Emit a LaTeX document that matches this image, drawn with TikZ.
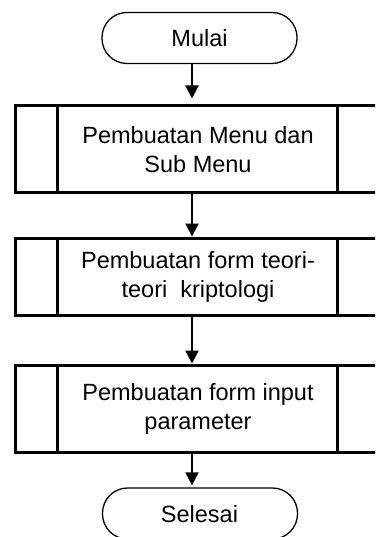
\documentclass[tikz,border=0pt]{standalone}
\usepackage{fontspec}
\setmainfont{Liberation Sans}
\usetikzlibrary{arrows.meta}
\tikzset{
  term/.style={draw, line width=1.3pt, rounded corners=25pt, minimum width=195pt, minimum height=51pt, inner sep=0pt},
  procbox/.style={draw, line width=3pt, minimum width=375pt, inner sep=0pt},
  txt/.style={align=center, inner sep=0pt, font=\fontsize{23.5}{29}\selectfont},
  inner/.style={line width=3pt},
  arr/.style={line width=2pt, -{Triangle[width=13pt,length=13pt]}}
}
\begin{document}
\begin{tikzpicture}[x=1pt,y=-1pt]
\useasboundingbox (0,0) rectangle (375,537);
\clip (0,0) rectangle (375,537);
\fill[white] (0,0) rectangle (375,537);
\coordinate (ax) at (192,0);
% terminals
\node[term] (mulai) at (199.5,38) {};
\node[txt] (tmulai) at (199.5,38) {Mulai};
\node[term] (selesai) at (200,513.5) {};
\node[txt] (tselesai) at (199.5,514) {Selesai};
% process boxes
\node[procbox, minimum height=87pt] (b1) at (202.5,149.5) {};
\node[procbox, minimum height=77pt] (b2) at (202.5,276.5) {};
\node[procbox, minimum height=87pt] (b3) at (202.5,408.5) {};
\node[txt] (t1) at (198,150) {Pembuatan Menu dan\\Sub Menu};
\node[txt] (t2) at (198,277) {Pembuatan form teori-\\teori\ \ kriptologi};
\node[txt] (t3) at (198,409) {Pembuatan form input\\parameter};
\foreach \b in {b1,b2,b3}{
  \draw[inner] ([xshift=44pt]\b.north west) -- ([xshift=44pt]\b.south west);
  \draw[inner] ([xshift=324pt]\b.north west) -- ([xshift=324pt]\b.south west);
}
% connectors
\draw[arr, shorten >=6pt] (mulai.south -| ax) -- (b1.north -| ax);
\draw[arr] (b1.south -| ax) -- (b2.north -| ax);
\draw[arr] (b2.south -| ax) -- (b3.north -| ax);
\draw[arr, shorten >=2pt] (b3.south -| ax) -- (selesai.north -| ax);
\end{tikzpicture}
\end{document}
